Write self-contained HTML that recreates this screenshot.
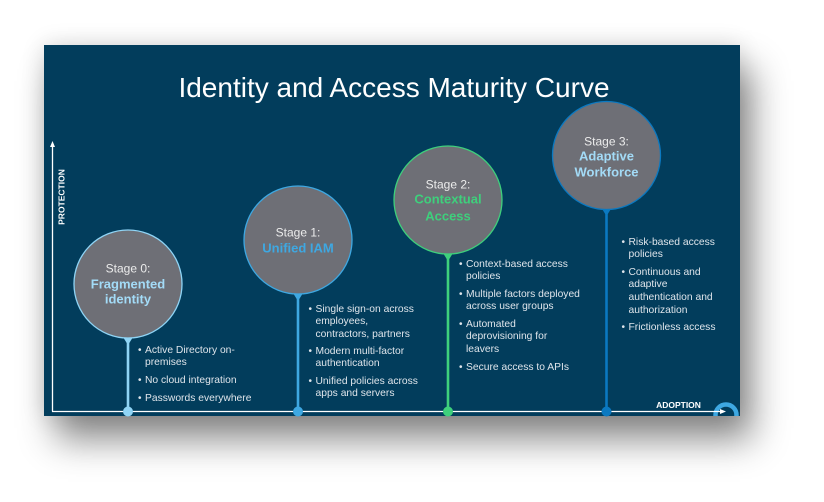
<!DOCTYPE html>
<html>
<head>
<meta charset="utf-8">
<style>
  html,body{margin:0;padding:0;background:#ffffff;}
  body{width:824px;height:502px;position:relative;overflow:hidden;font-family:"Liberation Sans",Arial,sans-serif;}
  .slide{position:absolute;left:44px;top:45px;width:696px;height:371px;background:#023d5c;
    box-shadow:0 0 22px rgba(0,0,0,0.14), 12px 24px 34px rgba(0,0,0,0.45);}
  svg{position:absolute;left:0;top:0;}
  .b{position:absolute;font-size:10.3px;line-height:12.8px;color:#dfe5eb;padding-left:7px;white-space:nowrap;}
  .b::before{content:"•";position:absolute;left:0;top:0;font-size:10px;}
</style>
</head>
<body>
<div class="slide"></div>
<svg width="824" height="502" viewBox="0 0 824 502">
  <defs>
    <clipPath id="sl"><rect x="44" y="45" width="696" height="371"/></clipPath>
  </defs>
  <text x="394" y="97" text-anchor="middle" font-family="Liberation Sans, Arial, sans-serif" font-size="28" fill="#ffffff">Identity and Access Maturity Curve</text>

  <g clip-path="url(#sl)">
    <circle cx="726" cy="415" r="10.5" fill="#023d5c" stroke="#3ea8e2" stroke-width="4.5"/>
  </g>

  <line x1="52.5" y1="411.5" x2="52.5" y2="146" stroke="#ffffff" stroke-width="1.3"/>
  <polygon points="52.5,141 50,147 55,147" fill="#ffffff"/>
  <line x1="52" y1="411.5" x2="721" y2="411.5" stroke="#ffffff" stroke-width="1.3"/>
  <polygon points="726,411.5 720,409 720,414" fill="#ffffff"/>

  <text transform="translate(64.5,197) rotate(-90)" text-anchor="middle" font-family="Liberation Sans, Arial, sans-serif" font-weight="bold" font-size="8.5" fill="#ffffff">PROTECTION</text>
  <text x="678.5" y="408" text-anchor="middle" font-family="Liberation Sans, Arial, sans-serif" font-weight="bold" font-size="8.5" fill="#ffffff">ADOPTION</text>

  <line x1="128" y1="336" x2="128" y2="411" stroke="#8fd4f5" stroke-width="2.6"/>
  <path d="M123,337 L133,337 L129.3,343 L126.7,343 Z" fill="#8fd4f5"/>
  <circle cx="128" cy="411.5" r="5" fill="#8fd4f5"/>

  <line x1="298" y1="292" x2="298" y2="411" stroke="#3ea8e2" stroke-width="2.6"/>
  <path d="M293,293 L303,293 L299.3,299 L296.7,299 Z" fill="#3ea8e2"/>
  <circle cx="298" cy="411.5" r="5" fill="#3ea8e2"/>

  <line x1="448" y1="252" x2="448" y2="411" stroke="#3ed07c" stroke-width="2.6"/>
  <path d="M443,253 L453,253 L449.3,259 L446.7,259 Z" fill="#3ed07c"/>
  <circle cx="448" cy="411.5" r="5" fill="#3ed07c"/>

  <line x1="606.5" y1="207" x2="606.5" y2="411" stroke="#0b79c1" stroke-width="2.6"/>
  <path d="M601.5,208 L611.5,208 L607.8,214 L605.2,214 Z" fill="#0b79c1"/>
  <circle cx="606.5" cy="411.5" r="5" fill="#0b79c1"/>

  <circle cx="128" cy="284" r="54" fill="#6e6f76" stroke="#8fd4f5" stroke-width="1.3"/>
  <circle cx="298" cy="240" r="54" fill="#6e6f76" stroke="#3ea8e2" stroke-width="1.3"/>
  <circle cx="448" cy="200" r="54" fill="#6e6f76" stroke="#3ed07c" stroke-width="1.3"/>
  <circle cx="606.5" cy="155.5" r="54" fill="#6e6f76" stroke="#0b79c1" stroke-width="1.3"/>

  <g font-family="Liberation Sans, Arial, sans-serif" text-anchor="middle">
    <text x="128" y="272.3" font-size="12" fill="#ececec">Stage 0:</text>
    <text x="128" y="288.7" font-size="13" font-weight="bold" fill="#a3dbf7">Fragmented</text>
    <text x="128" y="303.7" font-size="13" font-weight="bold" fill="#a3dbf7">identity</text>

    <text x="298" y="236.3" font-size="12" fill="#ececec">Stage 1:</text>
    <text x="298" y="252.7" font-size="13" font-weight="bold" fill="#3ea8e2">Unified IAM</text>

    <text x="448" y="188.3" font-size="12" fill="#ececec">Stage 2:</text>
    <text x="448" y="203.7" font-size="13" font-weight="bold" fill="#3ed07c">Contextual</text>
    <text x="448" y="220.7" font-size="13" font-weight="bold" fill="#3ed07c">Access</text>

    <text x="606.5" y="145.3" font-size="12" fill="#ececec">Stage 3:</text>
    <text x="606.5" y="160.7" font-size="13" font-weight="bold" fill="#a3dbf7">Adaptive</text>
    <text x="606.5" y="176.7" font-size="13" font-weight="bold" fill="#a3dbf7">Workforce</text>
  </g>
</svg>

<div class="b" style="left:138px;top:344.6px;">Active Directory on-<br>premises</div>
<div class="b" style="left:138px;top:374.6px;">No cloud integration</div>
<div class="b" style="left:138px;top:392.6px;">Passwords everywhere</div>

<div class="b" style="left:308.5px;top:303.6px;">Single sign-on across<br>employees,<br>contractors, partners</div>
<div class="b" style="left:308.5px;top:345.6px;">Modern multi-factor<br>authentication</div>
<div class="b" style="left:308.5px;top:375.6px;">Unified policies across<br>apps and servers</div>

<div class="b" style="left:459px;top:258.6px;">Context-based access<br>policies</div>
<div class="b" style="left:459px;top:288.6px;">Multiple factors deployed<br>across user groups</div>
<div class="b" style="left:459px;top:318.6px;">Automated<br>deprovisioning for<br>leavers</div>
<div class="b" style="left:459px;top:361.6px;">Secure access to APIs</div>

<div class="b" style="left:621.5px;top:236.6px;">Risk-based access<br>policies</div>
<div class="b" style="left:621.5px;top:266.6px;">Continuous and<br>adaptive<br>authentication and<br>authorization</div>
<div class="b" style="left:621.5px;top:321.6px;">Frictionless access</div>
</body>
</html>
